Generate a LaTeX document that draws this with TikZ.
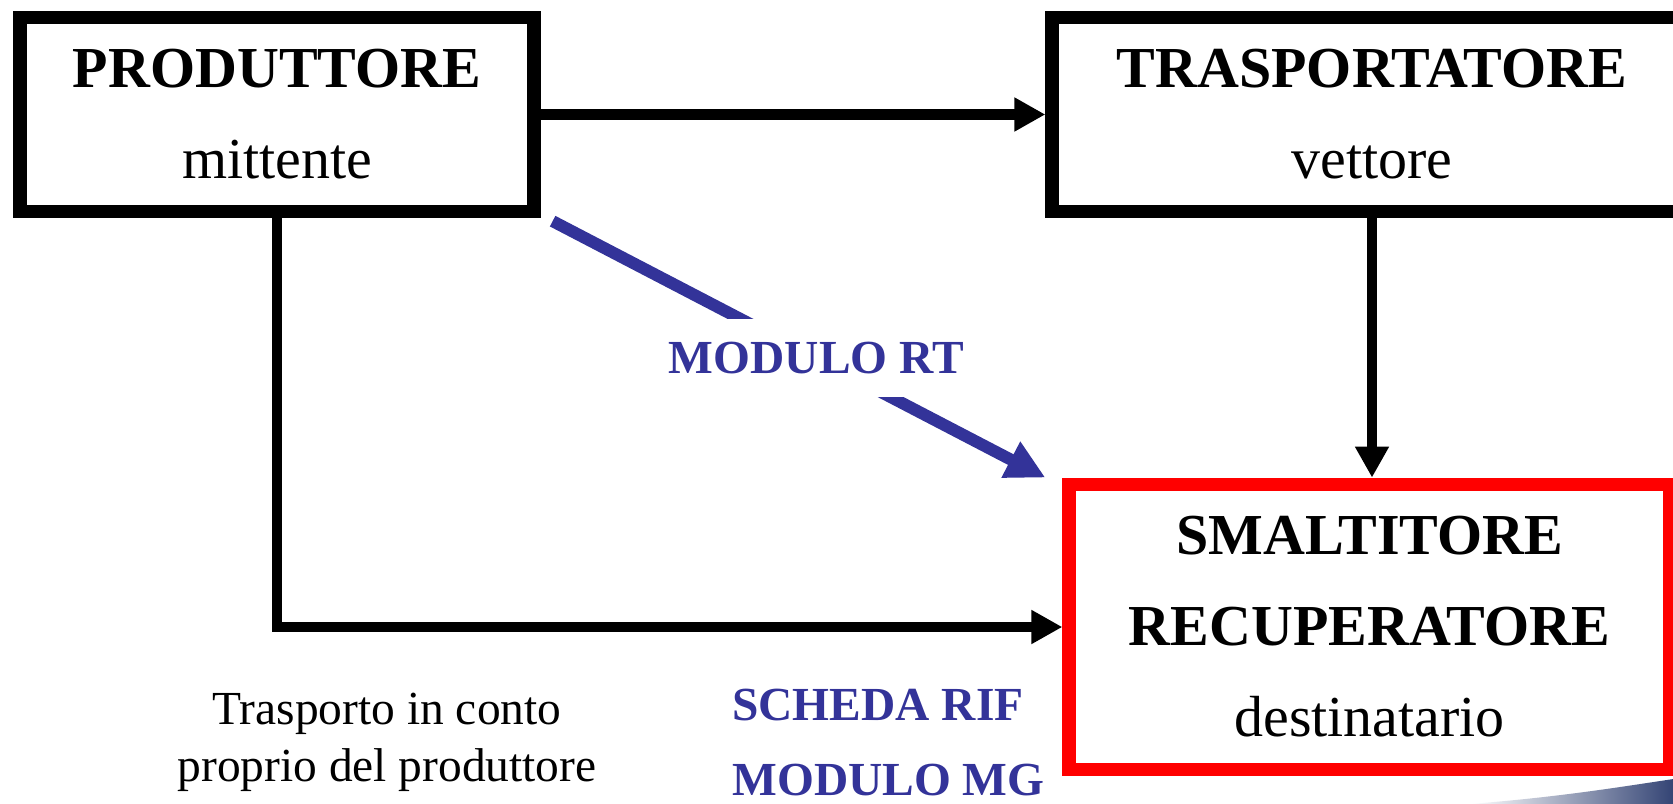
\documentclass[tikz,border=0pt]{standalone}
\usepackage{fontspec}
\setmainfont{Liberation Serif}
\usetikzlibrary{arrows.meta}
\definecolor{modblue}{RGB}{51,51,153}
\definecolor{swooshblue}{RGB}{45,62,112}

\begin{document}
\begin{tikzpicture}[x=0.02cm, y=-0.02cm,
  box/.style={draw, line width=7.6pt, align=center, inner sep=0pt, font=\fontsize{33}{51.8}\selectfont},
  flow/.style={line width=6.2pt, -{Triangle[length=0.62cm, width=0.64cm]}},
  modflow/.style={draw=modblue, line width=6.8pt, -{Triangle[length=0.78cm, width=0.76cm]}},
  modtext/.style={text=modblue, font=\fontsize{27}{42.7}\selectfont\bfseries}]
  \useasboundingbox (0,0) rectangle (1673,804);
  \shade[left color=white, right color=swooshblue] (1470,804) .. controls (1560,797) and (1620,787) .. (1680,778) -- (1680,804) -- cycle;
  \node[box, minimum width=10.28cm, minimum height=3.88cm] (prod) at (277,114.5) {\bfseries PRODUTTORE\\mittente};
  \node[box, minimum width=12.8cm, minimum height=3.88cm] (trasp) at (1372,114.5) {\bfseries TRASPORTATORE\\vettore};
  \node[box, draw=red, minimum width=12.02cm, minimum height=5.71cm] (smalt) at (1369.5,627) {\bfseries SMALTITORE\\\bfseries RECUPERATORE\\destinatario};
  \draw[flow] (prod.east) -- (trasp.west);
  \draw[flow] (trasp.south) -- (trasp.south |- smalt.north);
  \draw[flow] (prod.south) |- (smalt.west);
  \draw[modflow] ([shift={(12,3)}]prod.south east) -- node[pos=0.535, modtext, fill=white, inner xsep=6pt, inner ysep=0.46cm] (rt) {MODULO RT} ([shift={(-17,0)}]smalt.north west);
  \node[font=\fontsize{27}{32.4}\selectfont, align=center, inner sep=0pt] (own) at (387,742) {Trasporto in conto\\proprio del produttore};
  \node[modtext, align=left, anchor=west, inner sep=0pt] (forms) at (732,743) {SCHEDA RIF\\MODULO MG};
\end{tikzpicture}
\end{document}
